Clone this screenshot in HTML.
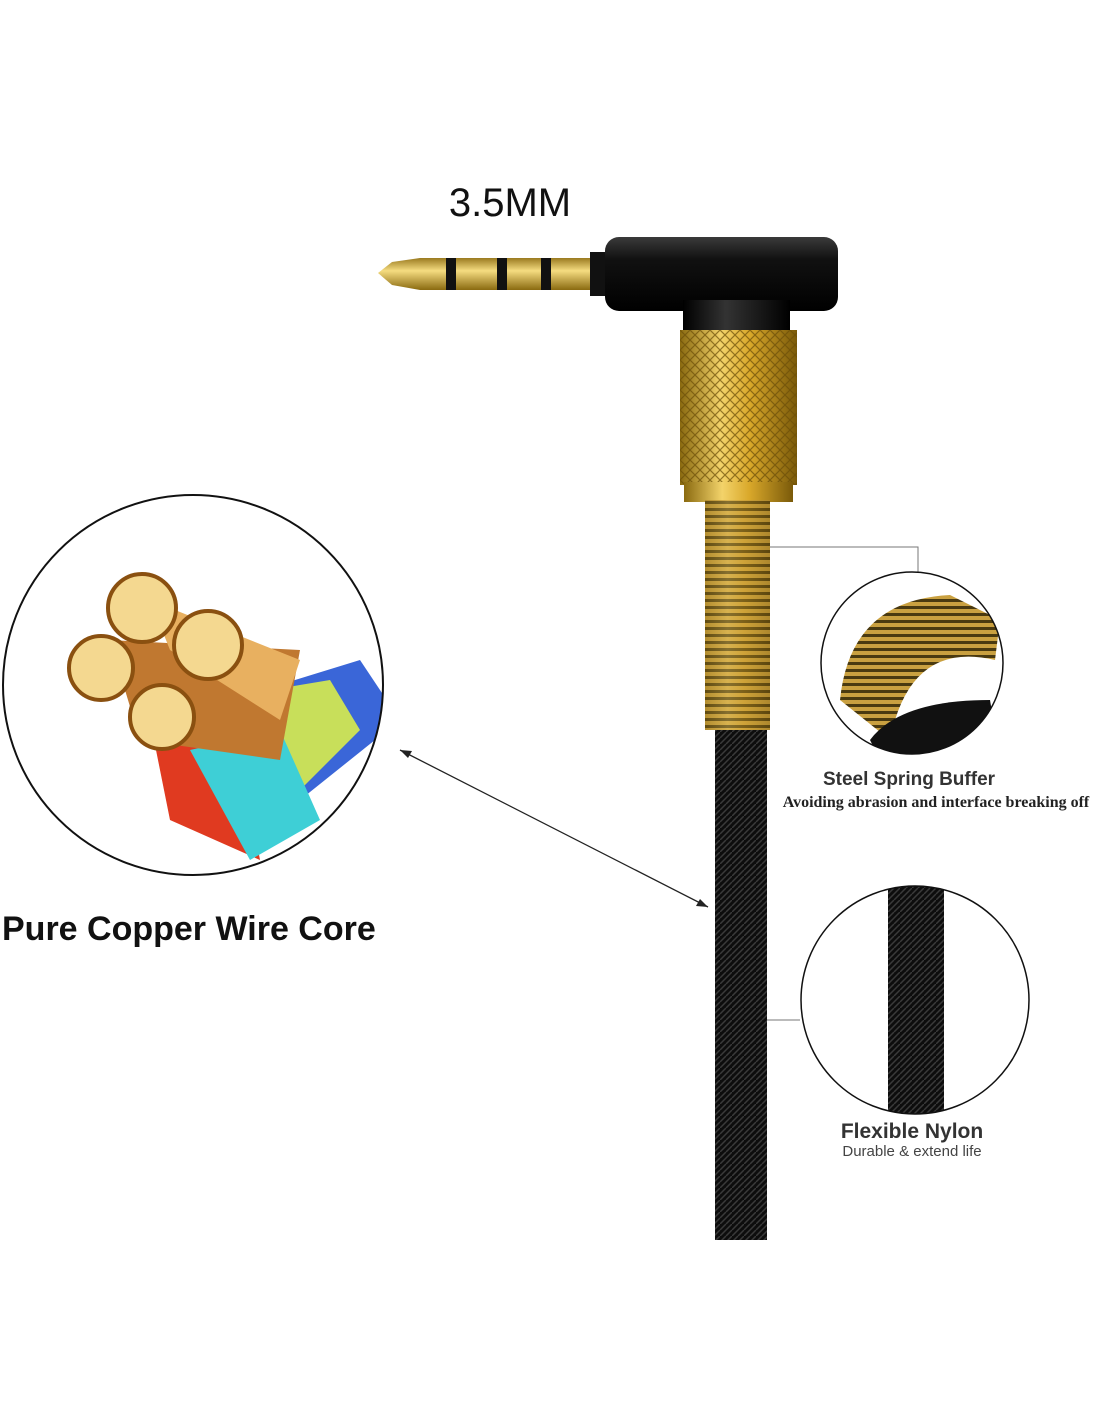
<!DOCTYPE html>
<html><head><meta charset="utf-8"><style>
html,body{margin:0;padding:0;background:#fff;}
svg{display:block}
</style></head><body>
<svg width="1100" height="1422" viewBox="0 0 1100 1422" xmlns="http://www.w3.org/2000/svg">
<defs>
<linearGradient id="gold" x1="0" x2="1" y1="0" y2="0">
<stop offset="0" stop-color="#8a6a10"/><stop offset="0.35" stop-color="#f3d36a"/><stop offset="0.6" stop-color="#d9a82a"/><stop offset="1" stop-color="#7a5a0a"/></linearGradient>
<linearGradient id="goldv" x1="0" x2="0" y1="0" y2="1">
<stop offset="0" stop-color="#9a7a20"/><stop offset="0.4" stop-color="#f5dc80"/><stop offset="1" stop-color="#8a6a10"/></linearGradient>
<linearGradient id="blk" x1="0" x2="0" y1="0" y2="1">
<stop offset="0" stop-color="#3a3a3a"/><stop offset="0.3" stop-color="#111"/><stop offset="1" stop-color="#000"/></linearGradient>
<linearGradient id="blkh" x1="0" x2="1" y1="0" y2="0">
<stop offset="0" stop-color="#000"/><stop offset="0.4" stop-color="#333"/><stop offset="1" stop-color="#000"/></linearGradient>
<pattern id="knurl" width="10" height="10" patternUnits="userSpaceOnUse">
<path d="M0 0L10 10M10 0L0 10" stroke="#6b4e08" stroke-width="1.2"/></pattern>
<pattern id="spring" width="10" height="7" patternUnits="userSpaceOnUse">
<rect width="10" height="7" fill="#c9a040"/><rect y="4" width="10" height="3" fill="#4a3a10"/></pattern>
<pattern id="braid" width="12" height="12" patternUnits="userSpaceOnUse">
<rect width="12" height="12" fill="#0d0d0d"/><path d="M0 12L12 0M0 6L6 0M6 12L12 6" stroke="#3a3a3a" stroke-width="1.5"/></pattern>
<clipPath id="c1"><circle cx="193" cy="685" r="190"/></clipPath>
<clipPath id="c2"><circle cx="912" cy="663" r="91"/></clipPath>
<clipPath id="c3"><circle cx="915" cy="1000" r="114"/></clipPath>
</defs>

<text x="510" y="216" text-anchor="middle" font-family="Liberation Sans, sans-serif" font-size="40" fill="#111">3.5MM</text>

<path d="M378 273 L392 262 L420 258 L600 258 L600 290 L420 290 L392 285 Z" fill="url(#goldv)"/>
<rect x="446" y="258" width="10" height="32" fill="#111"/>
<rect x="497" y="258" width="10" height="32" fill="#111"/>
<rect x="541" y="258" width="10" height="32" fill="#111"/>
<rect x="590" y="252" width="20" height="44" fill="#111"/>
<rect x="605" y="237" width="233" height="74" rx="14" fill="url(#blk)"/>
<rect x="683" y="300" width="107" height="45" fill="url(#blkh)"/>
<rect x="680" y="330" width="117" height="155" fill="url(#gold)"/>
<rect x="680" y="330" width="117" height="155" fill="url(#knurl)" opacity="0.7"/>
<rect x="684" y="482" width="109" height="20" fill="url(#gold)"/>
<rect x="705" y="500" width="65" height="230" fill="url(#spring)"/>
<rect x="705" y="500" width="65" height="230" fill="url(#gold)" opacity="0.35"/>
<rect x="715" y="730" width="52" height="510" fill="url(#braid)"/>

<g clip-path="url(#c1)">
<rect x="0" y="490" width="390" height="390" fill="#fff"/>
<path d="M230 700 L360 660 L400 720 L300 800 Z" fill="#3a66d8"/>
<path d="M210 700 L330 680 L360 730 L270 820 Z" fill="#c8df5a"/>
<path d="M150 720 L230 700 L260 860 L170 820 Z" fill="#e03a20"/>
<path d="M190 750 L280 730 L320 820 L250 860 Z" fill="#3ecfd6"/>
<path d="M110 640 L300 650 L280 760 L140 740 Z" fill="#c07830"/>
<path d="M150 600 L300 660 L280 720 L170 650 Z" fill="#e8b060"/>
<circle cx="142" cy="608" r="34" fill="#f4d890" stroke="#8a5010" stroke-width="4"/>
<circle cx="101" cy="668" r="32" fill="#f4d890" stroke="#8a5010" stroke-width="4"/>
<circle cx="208" cy="645" r="34" fill="#f4d890" stroke="#8a5010" stroke-width="4"/>
<circle cx="162" cy="717" r="32" fill="#f4d890" stroke="#8a5010" stroke-width="4"/>
</g>
<circle cx="193" cy="685" r="190" fill="none" stroke="#111" stroke-width="2"/>
<text x="2" y="940" font-family="Liberation Sans, sans-serif" font-weight="bold" font-size="34" fill="#111">Pure Copper Wire Core</text>
<line x1="400" y1="750" x2="708" y2="907" stroke="#222" stroke-width="1.3"/>
<path d="M400 750 L412 751 L408 758 Z" fill="#222"/>
<path d="M708 907 L696 906 L700 899 Z" fill="#222"/>

<polyline points="770,547 918,547 918,572" fill="none" stroke="#777" stroke-width="1"/>
<g clip-path="url(#c2)">
<path d="M840 700 Q850 600 950 595 L1000 620 L995 660 Q910 640 890 740 Z" fill="url(#spring)"/>
<path d="M870 740 Q900 700 990 700 L1000 760 L880 760 Z" fill="#111"/>
</g>
<circle cx="912" cy="663" r="91" fill="none" stroke="#111" stroke-width="1.5"/>
<text x="909" y="785" text-anchor="middle" font-family="Liberation Sans, sans-serif" font-weight="bold" font-size="19" fill="#333">Steel Spring Buffer</text>
<text x="936" y="807" text-anchor="middle" font-family="Liberation Serif, serif" font-weight="bold" font-size="16" fill="#222">Avoiding abrasion and interface breaking off</text>

<line x1="767" y1="1020" x2="800" y2="1020" stroke="#777" stroke-width="1"/>
<g clip-path="url(#c3)">
<rect x="888" y="880" width="56" height="240" fill="url(#braid)"/>
</g>
<circle cx="915" cy="1000" r="114" fill="none" stroke="#111" stroke-width="1.5"/>
<text x="912" y="1138" text-anchor="middle" font-family="Liberation Sans, sans-serif" font-weight="bold" font-size="21" fill="#333">Flexible Nylon</text>
<text x="912" y="1156" text-anchor="middle" font-family="Liberation Sans, sans-serif" font-size="15" fill="#444">Durable &amp; extend life</text>
</svg>
</body></html>
